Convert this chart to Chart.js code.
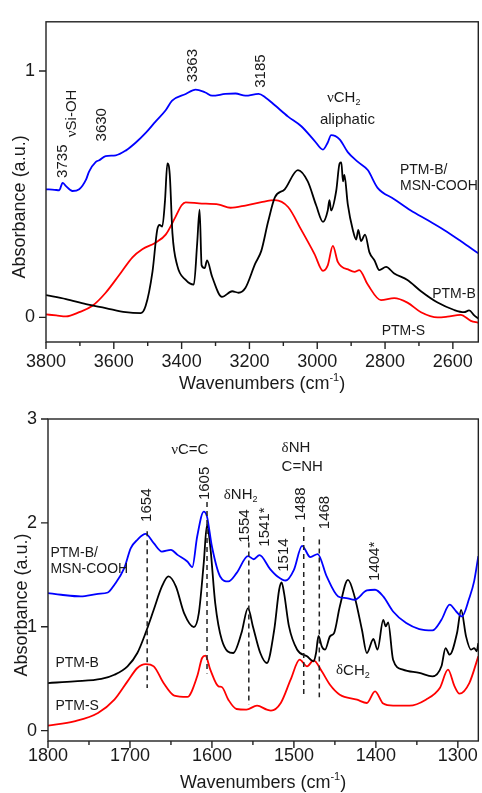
<!DOCTYPE html>
<html>
<head>
<meta charset="utf-8">
<script src="https://cdn.jsdelivr.net/npm/chart.js@4.4.1/dist/chart.umd.min.js"></script>
<style>
  html, body { margin: 0; padding: 0; background: #fff; }
  #wrap { position: relative; width: 482px; height: 793px; }
  canvas { position: absolute; left: 0; }
  #chartOH { top: 0; }
  #chartFP { top: 396px; }
</style>
</head>
<body>
<div id="wrap">
  <canvas id="chartOH" width="482" height="396"></canvas>
  <canvas id="chartFP" width="482" height="397"></canvas>
</div>
<script>
// ---- upper panel: 3800-2525 cm-1 ----
const ohBlueWn  = [3800, 3775, 3761, 3751, 3741, 3722, 3702, 3682, 3673, 3653, 3643, 3624, 3594, 3565, 3535, 3506, 3477, 3447, 3428, 3388, 3359, 3330, 3310, 3271, 3241, 3212, 3173, 3153, 3125, 3086, 3047, 3008, 2983, 2969, 2959, 2934, 2910, 2880, 2851, 2822, 2773, 2724, 2675, 2626, 2577, 2525];
const ohBlueAbs = [0.52, 0.518, 0.516, 0.546, 0.533, 0.513, 0.52, 0.559, 0.592, 0.631, 0.638, 0.655, 0.658, 0.677, 0.71, 0.749, 0.795, 0.841, 0.88, 0.907, 0.925, 0.913, 0.9, 0.907, 0.909, 0.9, 0.907, 0.893, 0.861, 0.815, 0.776, 0.717, 0.681, 0.71, 0.74, 0.723, 0.671, 0.631, 0.598, 0.526, 0.48, 0.434, 0.395, 0.355, 0.31, 0.26];

const ohBlackWn  = [3800, 3741, 3682, 3624, 3565, 3521, 3506, 3486, 3472, 3465, 3457, 3449, 3442, 3435, 3427, 3413, 3388, 3364, 3354, 3347, 3341, 3332, 3325, 3310, 3281, 3251, 3232, 3212, 3183, 3165, 3145, 3125, 3096, 3057, 3028, 3003, 2983, 2969, 2964, 2959, 2944, 2934, 2929, 2924, 2920, 2910, 2895, 2885, 2879, 2871, 2859, 2846, 2831, 2817, 2797, 2773, 2734, 2694, 2645, 2596, 2567, 2552, 2537, 2525];
const ohBlackAbs = [0.09, 0.074, 0.054, 0.038, 0.021, 0.017, 0.047, 0.185, 0.355, 0.375, 0.369, 0.474, 0.625, 0.58, 0.34, 0.211, 0.152, 0.133, 0.303, 0.437, 0.211, 0.2, 0.231, 0.165, 0.083, 0.106, 0.1, 0.119, 0.218, 0.27, 0.388, 0.487, 0.52, 0.598, 0.552, 0.454, 0.388, 0.434, 0.476, 0.434, 0.514, 0.625, 0.629, 0.552, 0.578, 0.46, 0.355, 0.316, 0.355, 0.31, 0.336, 0.264, 0.231, 0.192, 0.205, 0.178, 0.152, 0.106, 0.06, 0.03, 0.021, 0.028, 0.008, -0.005];

const ohRedWn  = [3800, 3770, 3741, 3702, 3663, 3624, 3584, 3545, 3516, 3477, 3447, 3418, 3400, 3388, 3349, 3290, 3256, 3212, 3165, 3125, 3086, 3047, 3008, 2983, 2969, 2954, 2939, 2905, 2890, 2876, 2851, 2812, 2773, 2734, 2694, 2645, 2616, 2577, 2547, 2525];
const ohRedAbs = [0.012, 0.008, 0.004, 0.021, 0.047, 0.1, 0.172, 0.244, 0.277, 0.303, 0.336, 0.408, 0.455, 0.467, 0.463, 0.458, 0.445, 0.454, 0.468, 0.476, 0.448, 0.355, 0.257, 0.189, 0.211, 0.29, 0.224, 0.192, 0.185, 0.192, 0.133, 0.07, 0.078, 0.06, 0.021, 0.0, 0.003, 0.01, -0.014, -0.022];

const ohXTicks = [3800, 3600, 3400, 3200, 3000, 2800, 2600];
const ohXMinor = [3700, 3500, 3300, 3100, 2900, 2700];
const ohYTicks = [0, 1];

// ---- lower panel: 1800-1275 cm-1 ----
const fpBlueWn  = [1800, 1784, 1760, 1739, 1727, 1719, 1707, 1699, 1691, 1681, 1671, 1661, 1650, 1642, 1630, 1624, 1618, 1610, 1606, 1600, 1590, 1580, 1570, 1556, 1549, 1542, 1529, 1520, 1510, 1500, 1490, 1480, 1471, 1460, 1446, 1436, 1426, 1411, 1401, 1391, 1379, 1363, 1347, 1331, 1320, 1310, 1302, 1295, 1286, 1280, 1275];
const fpBlueAbs = [1.324, 1.308, 1.292, 1.317, 1.33, 1.404, 1.564, 1.757, 1.837, 1.894, 1.805, 1.724, 1.74, 1.692, 1.628, 1.574, 1.869, 2.109, 2.06, 1.772, 1.484, 1.436, 1.516, 1.68, 1.65, 1.69, 1.555, 1.484, 1.445, 1.548, 1.779, 1.67, 1.70, 1.484, 1.292, 1.276, 1.26, 1.349, 1.356, 1.292, 1.147, 1.035, 0.978, 0.965, 1.067, 1.212, 1.147, 1.099, 1.276, 1.442, 1.68];

const fpBlackWn  = [1800, 1768, 1735, 1719, 1703, 1691, 1681, 1671, 1661, 1653, 1644, 1634, 1622, 1616, 1610, 1606, 1602, 1596, 1588, 1574, 1564, 1556, 1550, 1541, 1533, 1524, 1518, 1515, 1512, 1506, 1496, 1484, 1476, 1473, 1470, 1466, 1462, 1456, 1451, 1444, 1434, 1426, 1417, 1411, 1403, 1398, 1391, 1388, 1385, 1379, 1367, 1347, 1331, 1320, 1315, 1310, 1301, 1296, 1290, 1284, 1280, 1277, 1275];
const fpBlackAbs = [0.458, 0.474, 0.497, 0.538, 0.619, 0.747, 0.939, 1.163, 1.388, 1.484, 1.388, 1.131, 0.997, 1.131, 1.612, 1.981, 1.772, 1.228, 0.875, 0.747, 0.939, 1.18, 1.003, 0.747, 0.651, 0.971, 1.356, 1.426, 1.324, 1.003, 0.779, 0.715, 0.667, 0.747, 0.913, 0.811, 0.779, 0.907, 0.939, 1.195, 1.452, 1.292, 0.971, 0.747, 0.882, 0.779, 1.067, 1.003, 1.041, 0.683, 0.587, 0.555, 0.522, 0.619, 0.795, 0.731, 0.939, 1.163, 0.907, 0.779, 0.795, 0.763, 0.843];

const fpRedWn  = [1800, 1768, 1739, 1719, 1703, 1691, 1681, 1671, 1659, 1646, 1630, 1618, 1612, 1608, 1602, 1592, 1588, 1580, 1570, 1558, 1545, 1533, 1528, 1516, 1504, 1493, 1484, 1476, 1466, 1456, 1444, 1423, 1411, 1401, 1391, 1379, 1359, 1339, 1322, 1312, 1304, 1298, 1286, 1275];
const fpRedAbs = [0.048, 0.09, 0.17, 0.298, 0.474, 0.603, 0.641, 0.619, 0.458, 0.337, 0.324, 0.523, 0.699, 0.721, 0.587, 0.426, 0.42, 0.298, 0.208, 0.202, 0.24, 0.202, 0.192, 0.266, 0.49, 0.683, 0.619, 0.676, 0.571, 0.442, 0.346, 0.298, 0.266, 0.378, 0.26, 0.24, 0.24, 0.298, 0.41, 0.587, 0.426, 0.356, 0.458, 0.715];

const fpXTicks = [1800, 1700, 1600, 1500, 1400, 1300];
const fpXMinor = [1750, 1650, 1550, 1450, 1350];
const fpYTicks = [0, 1, 2, 3];

// band labels, placed in data units (wavenumber, absorbance)
const ohNotes = [
  { w: 3749, a: 0.634, text: ['3735'], rot: true },
  { w: 3724, a: 0.828, text: ['ν', 'Si-OH'], rot: true },
  { w: 3636, a: 0.782, text: ['3630'], rot: true },
  { w: 3367, a: 1.022, text: ['3363'], rot: true },
  { w: 3166, a: 1.0, text: ['3185'], rot: true },
  { w: 2922, a: 0.891, text: ['ν', 'CH', '_2'] },
  { w: 2911, a: 0.802, text: ['aliphatic'] },
  { w: 2756, a: 0.598, text: ['PTM-B/'], left: true, small: true },
  { w: 2756, a: 0.533, text: ['MSN-COOH'], left: true, small: true },
  { w: 2661, a: 0.093, text: ['PTM-B'], left: true, small: true },
  { w: 2810, a: -0.055, text: ['PTM-S'], left: true, small: true }
];

const fpNotes = [
  { w: 1627, a: 2.70, text: ['ν', 'C=C'] },
  { w: 1609, a: 2.38, text: ['1605'], rot: true },
  { w: 1565, a: 2.27, text: ['δ', 'NH', '_2'] },
  { w: 1680, a: 2.17, text: ['1654'], rot: true },
  { w: 1560, a: 1.97, text: ['1554'], rot: true },
  { w: 1536, a: 1.96, text: ['1541*'], rot: true },
  { w: 1512, a: 1.69, text: ['1514'], rot: true },
  { w: 1515, a: 2.72, text: ['δ', 'NH'], left: true },
  { w: 1515, a: 2.54, text: ['C=NH'], left: true },
  { w: 1492, a: 2.18, text: ['1488'], rot: true },
  { w: 1462, a: 2.10, text: ['1468'], rot: true },
  { w: 1401, a: 1.63, text: ['1404*'], rot: true },
  { w: 1797, a: 1.71, text: ['PTM-B/'], left: true, small: true },
  { w: 1797, a: 1.55, text: ['MSN-COOH'], left: true, small: true },
  { w: 1791, a: 0.65, text: ['PTM-B'], left: true, small: true },
  { w: 1791, a: 0.24, text: ['PTM-S'], left: true, small: true },
  { w: 1428, a: 0.58, text: ['δ', 'CH', '_2'] }
];

const fpDashes = [
  { w: 1679, from: 1.92, to: 0.41 },
  { w: 1606, from: 2.20, to: 0.55 },
  { w: 1555, from: 1.81, to: 0.25 },
  { w: 1488, from: 1.96, to: 0.33 },
  { w: 1469, from: 1.84, to: 0.32 }
];

const SANS = '"Liberation Sans", Arial, sans-serif';
const SERIF = '"Liberation Serif", "Times New Roman", serif';
const INK = '#1a1a1a';

function pts(wn, abs) {
  return wn.map((w, i) => ({ x: w, y: abs[i] }));
}

// draws a label made of runs: greek letters in serif, "_x" subscript, "^x" superscript
function drawRuns(ctx, runs, x, y, size, opts) {
  ctx.save();
  ctx.translate(x, y);
  if (opts.rot) ctx.rotate(-Math.PI / 2);
  const parts = runs.map(r => {
    const sub = r[0] === '_', sup = r[0] === '^';
    const t = (sub || sup) ? r.slice(1) : r;
    const greek = /[\u0370-\u03ff]/.test(t);
    const fs = (sub || sup) ? Math.round(size * 0.62) : size;
    return { t, fs, family: greek ? SERIF : SANS, dy: sub ? size * 0.32 : sup ? -size * 0.42 : 0 };
  });
  let total = 0;
  parts.forEach(p => { ctx.font = `${p.fs}px ${p.family}`; p.w = ctx.measureText(p.t).width; total += p.w; });
  let cx = opts.left ? 0 : -total / 2;
  ctx.textAlign = 'left';
  ctx.textBaseline = opts.baseline || 'middle';
  ctx.fillStyle = INK;
  parts.forEach(p => {
    ctx.font = `${p.fs}px ${p.family}`;
    ctx.fillText(p.t, cx, p.dy);
    cx += p.w;
  });
  ctx.restore();
}

const figureDecor = {
  id: 'figureDecor',
  afterDatasetsDraw(chart, args, o) {
    const { ctx, scales: { x, y } } = chart;
    ctx.save();
    // dashed guide lines
    ctx.strokeStyle = '#222';
    ctx.lineWidth = 1.5;
    ctx.setLineDash([5, 4]);
    (o.dashes || []).forEach(d => {
      const px = x.getPixelForValue(d.w);
      ctx.beginPath();
      ctx.moveTo(px, y.getPixelForValue(d.from));
      ctx.lineTo(px, y.getPixelForValue(d.to));
      ctx.stroke();
    });
    ctx.setLineDash([]);
    // text labels
    (o.notes || []).forEach(n => {
      drawRuns(ctx, n.text, x.getPixelForValue(n.w), y.getPixelForValue(n.a), n.small ? 14 : 15, n);
    });
    ctx.restore();
  },
  afterDraw(chart, args, o) {
    const { ctx, chartArea: a, scales: { x, y } } = chart;
    ctx.save();
    ctx.strokeStyle = '#222';
    ctx.lineWidth = 1.4;
    ctx.strokeRect(a.left, a.top, a.right - a.left, a.bottom - a.top);
    ctx.beginPath();
    o.xMajor.forEach(v => { const p = x.getPixelForValue(v); ctx.moveTo(p, a.bottom); ctx.lineTo(p, a.bottom + 7); });
    o.xMinor.forEach(v => { const p = x.getPixelForValue(v); ctx.moveTo(p, a.bottom); ctx.lineTo(p, a.bottom + 4); });
    o.yMajor.forEach(v => { const p = y.getPixelForValue(v); ctx.moveTo(a.left, p); ctx.lineTo(a.left - 7, p); });
    ctx.stroke();
    // axis titles
    drawRuns(ctx, ['Wavenumbers (cm', '^-1', ')'], (a.left + a.right) / 2, a.bottom + 47, 18, { baseline: 'alphabetic' });
    drawRuns(ctx, ['Absorbance (a.u.)'], a.left - 21, (a.top + a.bottom) / 2 + 25, 18, { rot: true, baseline: 'alphabetic' });
    ctx.restore();
  }
};

function buildPanel(canvasId, cfg) {
  return new Chart(document.getElementById(canvasId).getContext('2d'), {
    type: 'line',
    data: {
      datasets: [
        { data: pts(cfg.blue[0], cfg.blue[1]), borderColor: '#0000ff' },
        { data: pts(cfg.black[0], cfg.black[1]), borderColor: '#000000' },
        { data: pts(cfg.red[0], cfg.red[1]), borderColor: '#ff0000' }
      ].map(d => Object.assign(d, { borderWidth: 1.8, pointRadius: 0, fill: false, cubicInterpolationMode: 'monotone' }))
    },
    options: {
      responsive: false,
      animation: false,
      events: [],
      layout: { padding: cfg.pad },
      plugins: {
        legend: { display: false },
        tooltip: { enabled: false },
        figureDecor: { notes: cfg.notes, dashes: cfg.dashes || [], xMajor: cfg.xTicks, xMinor: cfg.xMinor, yMajor: cfg.yTicks }
      },
      scales: {
        x: {
          type: 'linear',
          reverse: true,
          min: cfg.xMin, max: cfg.xMax,
          grid: { display: false, drawTicks: false },
          border: { display: false },
          afterBuildTicks: s => { s.ticks = cfg.xTicks.map(v => ({ value: v })); },
          afterFit: s => { s.height = cfg.xAxisH; },
          ticks: { padding: cfg.xPad, maxRotation: 0, color: INK, font: { family: SANS, size: 18 }, callback: v => String(v) }
        },
        y: {
          min: cfg.yMin, max: cfg.yMax,
          grid: { display: false, drawTicks: false },
          border: { display: false },
          afterBuildTicks: s => { s.ticks = cfg.yTicks.map(v => ({ value: v })); },
          afterFit: s => { s.width = cfg.yAxisW; },
          ticks: { padding: 11, color: INK, font: { family: SANS, size: 18 }, callback: v => String(v) }
        }
      }
    },
    plugins: [figureDecor]
  });
}

buildPanel('chartOH', {
  blue: [ohBlueWn, ohBlueAbs], black: [ohBlackWn, ohBlackAbs], red: [ohRedWn, ohRedAbs],
  xMin: 2525, xMax: 3800, yMin: -0.1, yMax: 1.2,
  xTicks: ohXTicks, xMinor: ohXMinor, yTicks: ohYTicks,
  notes: ohNotes,
  pad: { top: 13, right: 2, left: 0, bottom: 0 },
  xAxisH: 54, yAxisW: 46, xPad: 9
});

buildPanel('chartFP', {
  blue: [fpBlueWn, fpBlueAbs], black: [fpBlackWn, fpBlackAbs], red: [fpRedWn, fpRedAbs],
  xMin: 1275, xMax: 1800, yMin: -0.1, yMax: 3,
  xTicks: fpXTicks, xMinor: fpXMinor, yTicks: fpYTicks,
  notes: fpNotes, dashes: fpDashes,
  pad: { top: 23, right: 3, left: 0, bottom: 0 },
  xAxisH: 52, yAxisW: 48, xPad: 4
});
</script>
</body>
</html>
